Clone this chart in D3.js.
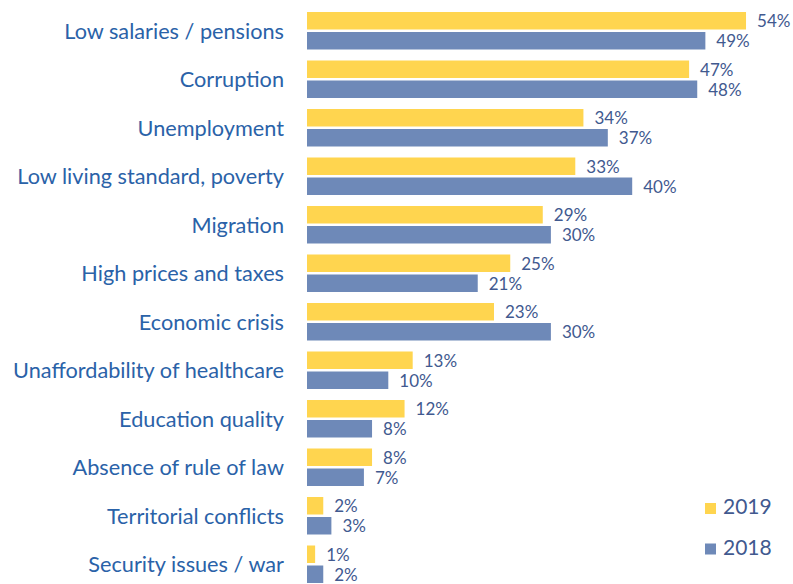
<!DOCTYPE html>
<html>
<head>
<meta charset="utf-8">
<script src="https://cdn.jsdelivr.net/npm/d3@7"></script>
<style>
  body { margin: 0; background: #fff; }
  svg { display: block; }
</style>
</head>
<body>
<svg id="chart" width="793" height="584"></svg>
<script>
// survey data, share of respondents
var categories = [
  "Low salaries / pensions",
  "Corruption",
  "Unemployment",
  "Low living standard, poverty",
  "Migration",
  "High prices and taxes",
  "Economic crisis",
  "Unaffordability of healthcare",
  "Education quality",
  "Absence of rule of law",
  "Territorial conflicts",
  "Security issues / war"
];
var years = ["2019", "2018"];
var values2019 = [54, 47, 34, 33, 29, 25, 23, 13, 12, 8, 2, 1];
var values2018 = [49, 48, 37, 40, 30, 21, 30, 10, 8, 7, 3, 2];

var colors = { "2019": "#ffd54f", "2018": "#6e89b8" };
var labelColor = "#2a62a8";
var valueColor = "#41598f";
var font = "Lato, 'Open Sans', sans-serif";

var svg = d3.select("#chart");

var x = d3.scaleLinear()
  .domain([0, 100])
  .range([307, 307 + 813]);

var y = d3.scaleBand()
  .domain(categories)
  .range([1, 594])
  .padding(0.2268);

var ySub = d3.scaleBand()
  .domain(years)
  .range([0, y.bandwidth()])
  .paddingInner(0.125);

var rows = categories.map(function (name, i) {
  return {
    name: name,
    bars: [
      { year: "2019", value: values2019[i] },
      { year: "2018", value: values2018[i] }
    ]
  };
});

var g = svg.append("g");

var row = g.selectAll("g.row")
  .data(rows)
  .enter()
  .append("g")
  .attr("class", "row")
  .attr("transform", function (d) { return "translate(0," + y(d.name) + ")"; });

row.append("text")
  .attr("x", 284)
  .attr("y", y.bandwidth() / 2 + 2.5)
  .attr("text-anchor", "end")
  .attr("dominant-baseline", "middle")
  .style("font-family", font)
  .style("font-size", "21.7px")
  .style("fill", labelColor)
  .text(function (d) { return d.name; });

var bar = row.selectAll("g.bar")
  .data(function (d) { return d.bars; })
  .enter()
  .append("g")
  .attr("class", "bar");

bar.append("rect")
  .attr("x", x(0))
  .attr("y", function (d) { return ySub(d.year); })
  .attr("width", function (d) { return x(d.value) - x(0); })
  .attr("height", ySub.bandwidth())
  .style("fill", function (d) { return colors[d.year]; });

bar.append("text")
  .attr("x", function (d) { return x(d.value) + 11; })
  .attr("y", function (d) { return ySub(d.year) + ySub.bandwidth() / 2 + 2; })
  .attr("dominant-baseline", "middle")
  .style("font-family", font)
  .style("font-size", "17px")
  .style("fill", valueColor)
  .text(function (d) { return d.value + "%"; });

// legend
var legend = svg.append("g")
  .selectAll("g")
  .data(years)
  .enter()
  .append("g")
  .attr("transform", function (d, i) { return "translate(705," + (503 + i * 40.5) + ")"; });

legend.append("rect")
  .attr("width", 11)
  .attr("height", 11)
  .style("fill", function (d) { return colors[d]; });

legend.append("text")
  .attr("x", 18)
  .attr("y", 6)
  .attr("dominant-baseline", "middle")
  .style("font-family", font)
  .style("font-size", "21px")
  .style("fill", valueColor)
  .text(function (d) { return d; });
</script>
</body>
</html>
